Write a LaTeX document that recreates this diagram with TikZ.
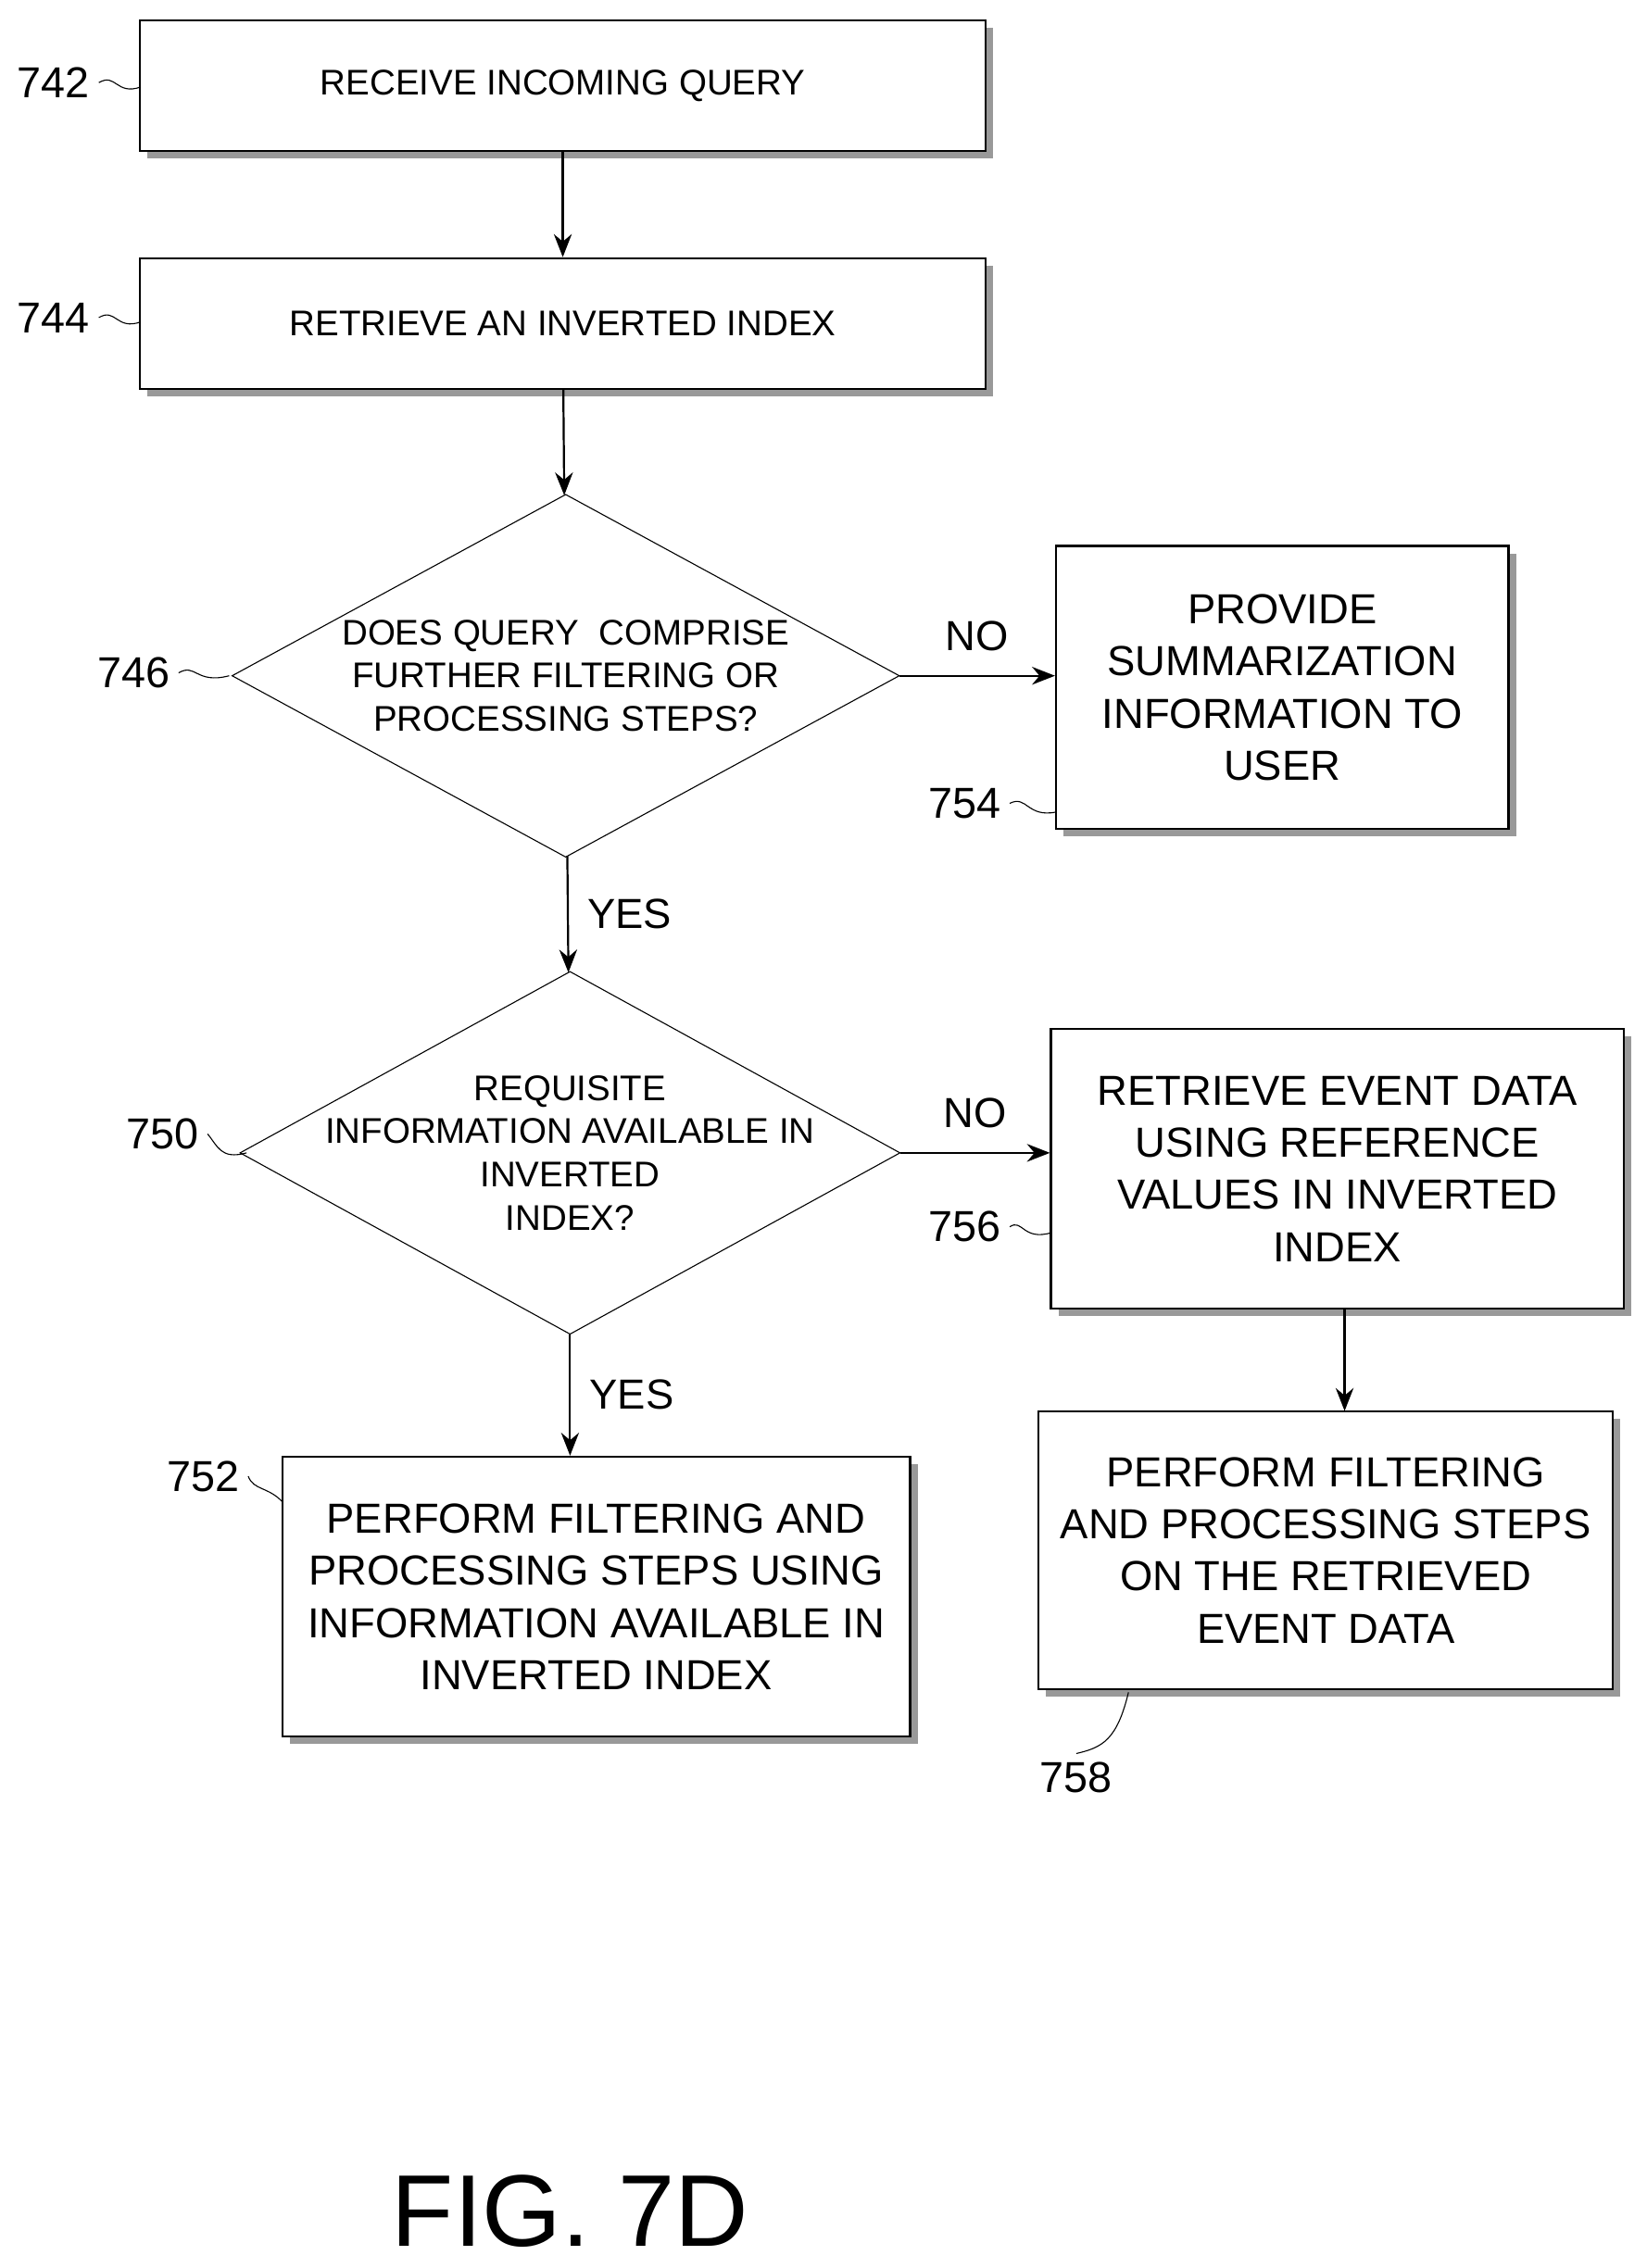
\documentclass[tikz,border=0pt]{standalone}
\usepackage{fontspec}
\setmainfont{Liberation Sans}
\usetikzlibrary{shapes.geometric,shadows,arrows.meta}

\begin{document}
\begin{tikzpicture}[x=0.02cm, y=-0.02cm,
    box/.style={rectangle, draw, thick, fill=white, align=center,
        drop shadow={shadow xshift=3pt, shadow yshift=-3pt, fill=gray!80, opacity=1}},
    small/.style={font=\fontsize{14}{17}\selectfont},
    big/.style={font=\fontsize{16.5}{20.5}\selectfont},
    dec/.style={diamond, draw, inner sep=0pt, outer sep=0pt},
    dectext/.style={align=center, font=\fontsize{14}{17}\selectfont},
    tag/.style={font=\fontsize{17}{20}\selectfont},
    arrow/.style={-{Stealth[length=9pt,width=7pt]}, thick},
    lead/.style={thin}
]
\useasboundingbox (0,0) rectangle (1135,1564);

\node[box, small, minimum width=11.66cm, minimum height=1.8cm] (receive) at (388,59) {RECEIVE INCOMING QUERY};
\node[box, small, minimum width=11.66cm, minimum height=1.8cm] (retrieve) at (388,223) {RETRIEVE AN INVERTED INDEX};
\node[dec, minimum width=9.2cm, minimum height=5cm] (further) at (390,466) {};
\node[dectext] at (further) {DOES QUERY\ \ COMPRISE\\FURTHER FILTERING OR\\PROCESSING STEPS?};
\node[box, big, minimum width=6.24cm, minimum height=3.9cm] (summary) at (884,474) {PROVIDE\\SUMMARIZATION\\INFORMATION TO\\USER};
\node[dec, minimum width=9.1cm, minimum height=5cm] (requisite) at (393,795) {};
\node[dectext] at (requisite) {REQUISITE\\INFORMATION AVAILABLE IN\\INVERTED\\INDEX?};
\node[box, big, minimum width=7.9cm, minimum height=3.86cm] (eventdata) at (922,806) {RETRIEVE EVENT DATA\\USING REFERENCE\\VALUES IN INVERTED\\INDEX};
\node[box, big, minimum width=8.66cm, minimum height=3.86cm] (useindex) at (411,1101) {PERFORM FILTERING AND\\PROCESSING STEPS USING\\INFORMATION AVAILABLE IN\\INVERTED INDEX};
\node[box, big, minimum width=7.92cm, minimum height=3.84cm] (useevents) at (914,1069) {PERFORM FILTERING\\AND PROCESSING STEPS\\ON THE RETRIEVED\\EVENT DATA};

\draw[arrow] (receive) -- (retrieve);
\draw[arrow] (retrieve) -- (further);
\draw[arrow] (further.east) -- node[above=6pt, big] {NO} (further.east -| summary.west);
\draw[arrow] (further) -- node[right=4pt, big] {YES} (requisite);
\draw[arrow] (requisite.east) -- node[above=6pt, big] {NO} (requisite.east -| eventdata.west);
\draw[arrow] (requisite.south) -- node[right=4pt, big] {YES} (requisite.south |- useindex.north);
\draw[arrow] (eventdata.south -| 927,0) -- (927,973);

% reference numerals
\node[tag] (n742) at (37,57) {742};
\node[tag] (n744) at (37,219) {744};
\node[tag] (n746) at (92,464) {746};
\node[tag] (n754) at (665,554) {754};
\node[tag] (n750) at (112,782) {750};
\node[tag] (n756) at (665,846) {756};
\node[tag] (n752) at (140,1018) {752};
\node[tag] (n758) at (742,1226) {758};

\draw[lead] (n742.east) .. controls (80,50) and (80,66) .. (97,60);
\draw[lead] (n744.east) .. controls (80,212) and (80,228) .. (97,222);
\draw[lead] (n746.east) .. controls (135,457) and (135,472) .. (158,466);
\draw[lead] (n754.east) .. controls (708,548) and (708,564) .. (728,560);
\draw[lead] (n750.east) .. controls (150,790) and (152,800) .. (170,795);
\draw[lead] (n756.east) .. controls (705,840) and (705,856) .. (725,850);
\draw[lead] (n752.east) .. controls (175,1028) and (185,1025) .. (195,1036);
\draw[lead] (n758.north) .. controls (760,1205) and (770,1200) .. (778,1167);

\node[font=\fontsize{40}{48}\selectfont] (fig) at (393,1525) {FIG. 7D};
\end{tikzpicture}
\end{document}
